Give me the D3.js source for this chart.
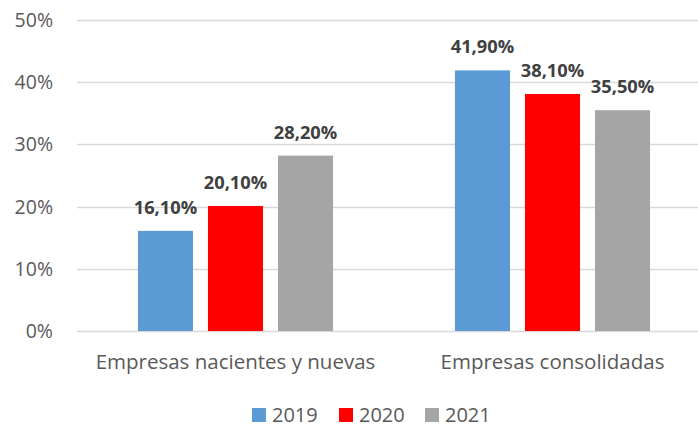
<!DOCTYPE html>
<html lang="es">
<head>
<meta charset="utf-8">
<title>Empresas</title>
<script src="https://d3js.org/d3.v7.min.js"></script>
<style>
  body { margin: 0; background: #fff; }
  text { font-family: "Open Sans", "Liberation Sans", sans-serif; }
</style>
</head>
<body>
<div id="chart"></div>
<script>
var categories = ["Empresas nacientes y nuevas", "Empresas consolidadas"];
var years = ["2019", "2020", "2021"];
var values2019 = [16.1, 41.9];
var values2020 = [20.1, 38.1];
var values2021 = [28.2, 35.5];
var yTicks = [0, 10, 20, 30, 40, 50];
var colors = ["#5B9BD5", "#FF0000", "#A5A5A5"];

var series = [values2019, values2020, values2021];

var width = 698, height = 427;
var plot = {left: 77, right: 711, top: 20, bottom: 331};

var svg = d3.select("#chart").append("svg")
    .attr("width", width)
    .attr("height", height);

var y = d3.scaleLinear().domain([0, 50]).range([plot.bottom, plot.top]);

var x0 = d3.scaleBand()
    .domain(categories)
    .range([plot.left, plot.right])
    .padding(0);

var x1 = d3.scaleBand()
    .domain(years)
    .range([0, x0.bandwidth()])
    .paddingInner(0.214)
    .paddingOuter(0.87);

// gridlines
svg.append("g").selectAll("line")
    .data(yTicks).enter()
    .append("line")
    .attr("x1", plot.left)
    .attr("x2", width)
    .attr("y1", function(d) { return Math.round(y(d)) + 0.5; })
    .attr("y2", function(d) { return Math.round(y(d)) + 0.5; })
    .style("stroke", "#d9d9d9")
    .style("stroke-width", 1.5);

// y labels
svg.append("g").selectAll("text")
    .data(yTicks).enter()
    .append("text")
    .attr("x", 53)
    .attr("y", function(d) { return y(d); })
    .attr("dy", "0.36em")
    .attr("text-anchor", "end")
    .style("font-size", "19.5px")
    .style("fill", "#595959")
    .text(function(d) { return d + "%"; });

// bars
var rows = [];
categories.forEach(function(c, i) {
    years.forEach(function(yr, j) {
        rows.push({cat: c, year: yr, value: series[j][i], color: colors[j]});
    });
});

svg.append("g").selectAll("rect")
    .data(rows).enter()
    .append("rect")
    .attr("x", function(d) { return x0(d.cat) + x1(d.year); })
    .attr("y", function(d) { return y(d.value); })
    .attr("width", x1.bandwidth())
    .attr("height", function(d) { return y(0) - y(d.value); })
    .style("fill", function(d) { return d.color; });

// value labels
svg.append("g").selectAll("text")
    .data(rows).enter()
    .append("text")
    .attr("x", function(d) { return x0(d.cat) + x1(d.year) + x1.bandwidth() / 2; })
    .attr("y", function(d) { return y(d.value) - 17; })
    .attr("text-anchor", "middle")
    .style("font-size", "18.3px")
    .style("font-weight", "bold")
    .style("fill", "#404040")
    .text(function(d) { return d.value.toFixed(2).replace(".", ",") + "%"; });

// category labels
svg.append("g").selectAll("text")
    .data(categories).enter()
    .append("text")
    .attr("x", function(d) { return x0(d) + x0.bandwidth() / 2; })
    .attr("y", 369)
    .attr("text-anchor", "middle")
    .style("font-size", "20.5px")
    .style("fill", "#595959")
    .text(function(d) { return d; });

// legend
var legendX = [252, 339, 425];
var legend = svg.append("g").selectAll("g")
    .data(years).enter()
    .append("g")
    .attr("transform", function(d, i) { return "translate(" + legendX[i] + ",408)"; });

legend.append("rect")
    .attr("width", 14)
    .attr("height", 14)
    .style("fill", function(d, i) { return colors[i]; });

legend.append("text")
    .attr("x", 20)
    .attr("y", 14)
    .style("font-size", "20px")
    .style("fill", "#595959")
    .text(function(d) { return d; });
</script>
</body>
</html>
